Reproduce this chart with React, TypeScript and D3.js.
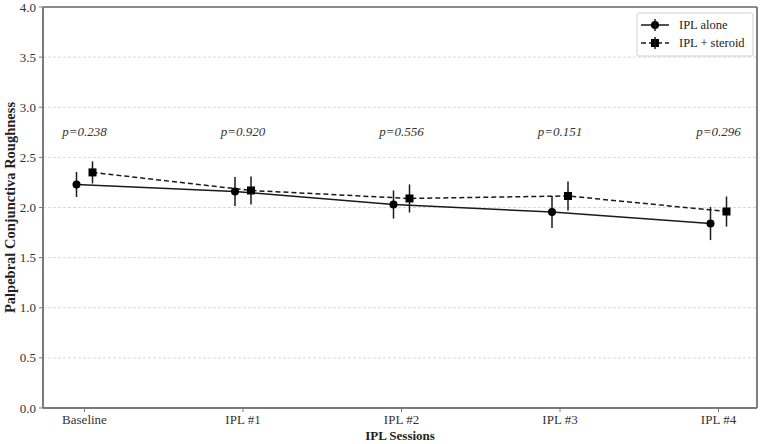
import React from "react";
import * as d3 from "d3";

const categories = ["Baseline", "IPL #1", "IPL #2", "IPL #3", "IPL #4"];
const aloneMean = [2.23, 2.16, 2.03, 1.955, 1.84];
const aloneErr = [0.125, 0.145, 0.14, 0.16, 0.165];
const steroidMean = [2.35, 2.17, 2.09, 2.115, 1.96];
const steroidErr = [0.11, 0.14, 0.14, 0.145, 0.15];
const pValues = ["p=0.238", "p=0.920", "p=0.556", "p=0.151", "p=0.296"];
const yTicks = [0, 0.5, 1.0, 1.5, 2.0, 2.5, 3.0, 3.5, 4.0];
const gridTicks = [0.5, 1.0, 1.5, 2.0, 2.5, 3.0, 3.5];
const pLabelY = 2.7;

const W = 762, H = 444;
const left = 43, right = 757, top = 7, bottom = 408;
const font = "'Liberation Serif', 'Times New Roman', serif";
const dark = "#1a1a1a";

export default function App() {
  const x = d3.scalePoint<string>().domain(categories).range([84.5, 718.5]);
  const y = d3.scaleLinear().domain([0, 4]).range([bottom, top]);
  const off = 8;
  const line = d3.line<[number, number]>().x(d => d[0]).y(d => d[1]);
  const alonePts: [number, number][] = categories.map((c, i) => [x(c)! - off, y(aloneMean[i])]);
  const sterPts: [number, number][] = categories.map((c, i) => [x(c)! + off, y(steroidMean[i])]);

  return (
    <svg width={W} height={H} style={{ position: "absolute", left: 0, top: 0, background: "#fff" }}>
      <rect x={0} y={0} width={W} height={H} fill="#fff" />
      {gridTicks.map(t => (
        <line key={t} x1={left} x2={right} y1={y(t)} y2={y(t)} stroke="#cfcfcf" strokeWidth={0.8} strokeDasharray="3,2" />
      ))}
      {/* spines */}
      <line x1={left} x2={right} y1={top} y2={top} stroke={dark} strokeWidth={1.2} />
      <line x1={right} x2={right} y1={top} y2={bottom} stroke="#555" strokeWidth={1.5} />
      <line x1={left} x2={left} y1={top} y2={bottom} stroke="#7a7a7a" strokeWidth={2} />
      <line x1={left} x2={right} y1={bottom} y2={bottom} stroke="#7a7a7a" strokeWidth={2} />
      {yTicks.map(t => (
        <g key={t}>
          <line x1={left - 4} x2={left} y1={y(t)} y2={y(t)} stroke="#7a7a7a" strokeWidth={1} />
          <text x={left - 7} y={y(t)} dy="0.35em" textAnchor="end" fontFamily={font} fontSize={13} fill="#333">
            {t.toFixed(1)}
          </text>
        </g>
      ))}
      {categories.map(c => (
        <g key={c}>
          <line x1={x(c)!} x2={x(c)!} y1={bottom} y2={bottom + 4} stroke="#7a7a7a" strokeWidth={1} />
          <text x={x(c)!} y={bottom + 16} textAnchor="middle" fontFamily={font} fontSize={13} fill="#333">{c}</text>
        </g>
      ))}
      <text x={(left + right) / 2} y={440} textAnchor="middle" fontFamily={font} fontSize={13} fontWeight="bold" fill="#222">IPL Sessions</text>
      <text transform={`translate(15,${(top + bottom) / 2}) rotate(-90)`} textAnchor="middle" fontFamily={font} fontSize={14.5} fontWeight="bold" fill="#222">
        Palpebral Conjunctiva Roughness
      </text>
      {/* p values */}
      {categories.map((c, i) => (
        <text key={c} x={x(c)!} y={y(pLabelY) - 1} textAnchor="middle" fontFamily={font} fontSize={13} fontStyle="italic" fill="#333">{pValues[i]}</text>
      ))}
      {/* lines */}
      <path d={line(alonePts)!} fill="none" stroke={dark} strokeWidth={1.5} />
      <path d={line(sterPts)!} fill="none" stroke={dark} strokeWidth={1.5} strokeDasharray="5,3" />
      {/* error bars + markers */}
      {categories.map((c, i) => (
        <g key={c}>
          <line x1={alonePts[i][0]} x2={alonePts[i][0]} y1={y(aloneMean[i] - aloneErr[i])} y2={y(aloneMean[i] + aloneErr[i])} stroke={dark} strokeWidth={1.5} />
          <circle cx={alonePts[i][0]} cy={alonePts[i][1]} r={4} fill="#000" />
          <line x1={sterPts[i][0]} x2={sterPts[i][0]} y1={y(steroidMean[i] - steroidErr[i])} y2={y(steroidMean[i] + steroidErr[i])} stroke={dark} strokeWidth={1.5} />
          <rect x={sterPts[i][0] - 4} y={sterPts[i][1] - 4} width={8} height={8} fill="#000" />
        </g>
      ))}
      {/* legend */}
      <g>
        <rect x={637} y={13} width={116} height={43} rx={2} fill="#fff" stroke="#d0d0d0" strokeWidth={1} />
        <line x1={641} x2={669} y1={25} y2={25} stroke={dark} strokeWidth={1.5} />
        <circle cx={655} cy={25} r={4} fill="#000" />
        <line x1={655} x2={655} y1={19} y2={31} stroke={dark} strokeWidth={1.5} />
        <text x={679} y={25} dy="0.35em" fontFamily={font} fontSize={12.5} fill="#222">IPL alone</text>
        <line x1={641} x2={669} y1={43} y2={43} stroke={dark} strokeWidth={1.5} strokeDasharray="5,3" />
        <rect x={651} y={39} width={8} height={8} fill="#000" />
        <line x1={655} x2={655} y1={37} y2={49} stroke={dark} strokeWidth={1.5} />
        <text x={679} y={43} dy="0.35em" fontFamily={font} fontSize={12.5} fill="#222">IPL + steroid</text>
      </g>
    </svg>
  );
}
